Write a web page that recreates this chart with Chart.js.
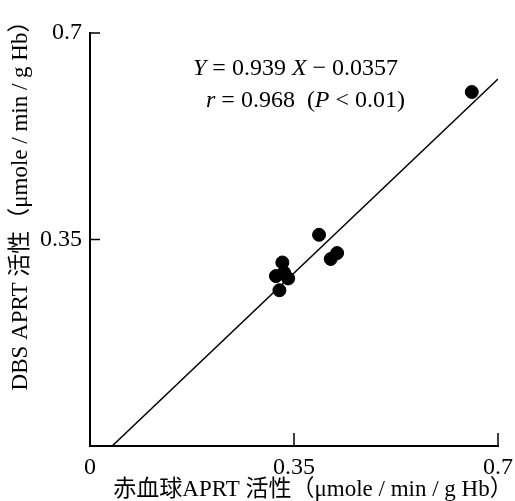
<!DOCTYPE html>
<html>
<head>
<meta charset="utf-8">
<script src="https://cdn.jsdelivr.net/npm/chart.js@4"></script>
<style>
  html, body { margin: 0; padding: 0; background: #fff; }
</style>
</head>
<body>
<canvas id="chart" width="515" height="501"></canvas>
<script>
// 赤血球 APRT 活性 (x) と DBS APRT 活性 (y)
const rbcActivity = [0.655, 0.393, 0.330, 0.319, 0.333, 0.340, 0.325, 0.413, 0.424];
const dbsActivity = [0.600, 0.358, 0.311, 0.288, 0.294, 0.284, 0.264, 0.317, 0.327];
// regression line end points
const fitX = [0.038, 0.7];
const fitY = [0, 0.622];
const xTicks = [0, 0.35, 0.7];
const yTicks = [0.35, 0.7];
const xTitle = '赤血球APRT 活性（μmole / min / g Hb）';
const yTitle = 'DBS APRT 活性（μmole / min / g Hb）';

const serif = "'Liberation Serif', 'Noto Sans CJK JP', serif";

// draw text made of plain / italic pieces
function drawRuns(ctx, runs, x, y, size) {
    let cx = x;
    runs.forEach(function(r) {
        ctx.font = (r[1] ? 'italic ' : '') + size + 'px ' + serif;
        ctx.fillText(r[0], cx, y);
        cx += ctx.measureText(r[0]).width;
    });
}

const extras = {
    id: 'extras',
    afterDraw(chart) {
        const ctx = chart.ctx;
        const area = chart.chartArea;
        const x = chart.scales.x, y = chart.scales.y;
        ctx.save();
        ctx.strokeStyle = '#000';
        ctx.lineWidth = 1.5;

        // tick marks pointing into the plot
        ctx.beginPath();
        yTicks.forEach(function(v) {
            const py = y.getPixelForValue(v);
            ctx.moveTo(area.left, py);
            ctx.lineTo(area.left + 10, py);
        });
        xTicks.slice(1).forEach(function(v) {
            const px = x.getPixelForValue(v);
            ctx.moveTo(px, area.bottom);
            ctx.lineTo(px, area.bottom - 13);
        });
        ctx.stroke();

        ctx.fillStyle = '#000';
        ctx.textBaseline = 'alphabetic';
        ctx.textAlign = 'left';
        drawRuns(ctx, [['Y', true], [' = 0.939 ', false], ['X', true], [' − 0.0357', false]], 193, 75, 24);
        drawRuns(ctx, [['r', true], [' = 0.968  (', false], ['P', true], [' < 0.01)', false]], 206, 107, 24);

        // axis titles
        ctx.font = '23px ' + serif;
        ctx.textAlign = 'center';
        ctx.textBaseline = 'middle';
        ctx.fillText(xTitle, 313, 490);
        ctx.translate(21, 200);
        ctx.rotate(-Math.PI / 2);
        ctx.fillText(yTitle, 0, 0);
        ctx.restore();
    }
};

const ctx = document.getElementById('chart').getContext('2d');
new Chart(ctx, {
    type: 'scatter',
    data: {
        datasets: [
            {
                label: 'data',
                data: rbcActivity.map(function(v, i) { return {x: v, y: dbsActivity[i]}; }),
                backgroundColor: '#000',
                borderColor: '#000',
                pointRadius: 6.5,
                pointHoverRadius: 6.5
            },
            {
                label: 'fit',
                type: 'line',
                data: fitX.map(function(v, i) { return {x: v, y: fitY[i]}; }),
                borderColor: '#000',
                borderWidth: 1.5,
                pointRadius: 0,
                fill: false
            }
        ]
    },
    options: {
        responsive: false,
        animation: false,
        devicePixelRatio: 1,
        layout: { padding: { left: 0, top: 33, right: 17, bottom: 0 } },
        plugins: {
            legend: { display: false },
            tooltip: { enabled: false }
        },
        scales: {
            x: {
                type: 'linear',
                min: 0,
                max: 0.7,
                afterBuildTicks: function(s) { s.ticks = xTicks.map(function(v) { return {value: v}; }); },
                afterFit: function(s) { s.height = 55; s.paddingLeft = 0; s.paddingRight = 0; },
                grid: { display: false, drawTicks: false },
                border: { display: true, color: '#000', width: 2 },
                ticks: {
                    color: '#000',
                    padding: 7,
                    maxRotation: 0,
                    autoSkip: false,
                    font: { family: serif, size: 24 },
                    callback: function(v) { return String(v); }
                }
            },
            y: {
                type: 'linear',
                min: 0,
                max: 0.7,
                afterBuildTicks: function(s) { s.ticks = yTicks.map(function(v) { return {value: v}; }); },
                afterFit: function(s) { s.width = 90; s.paddingTop = 0; s.paddingBottom = 0; },
                grid: { display: false, drawTicks: false },
                border: { display: true, color: '#000', width: 2 },
                ticks: {
                    color: '#000',
                    padding: 8,
                    autoSkip: false,
                    font: { family: serif, size: 24 },
                    callback: function(v) { return String(v); }
                }
            }
        }
    },
    plugins: [extras]
});
</script>
</body>
</html>
